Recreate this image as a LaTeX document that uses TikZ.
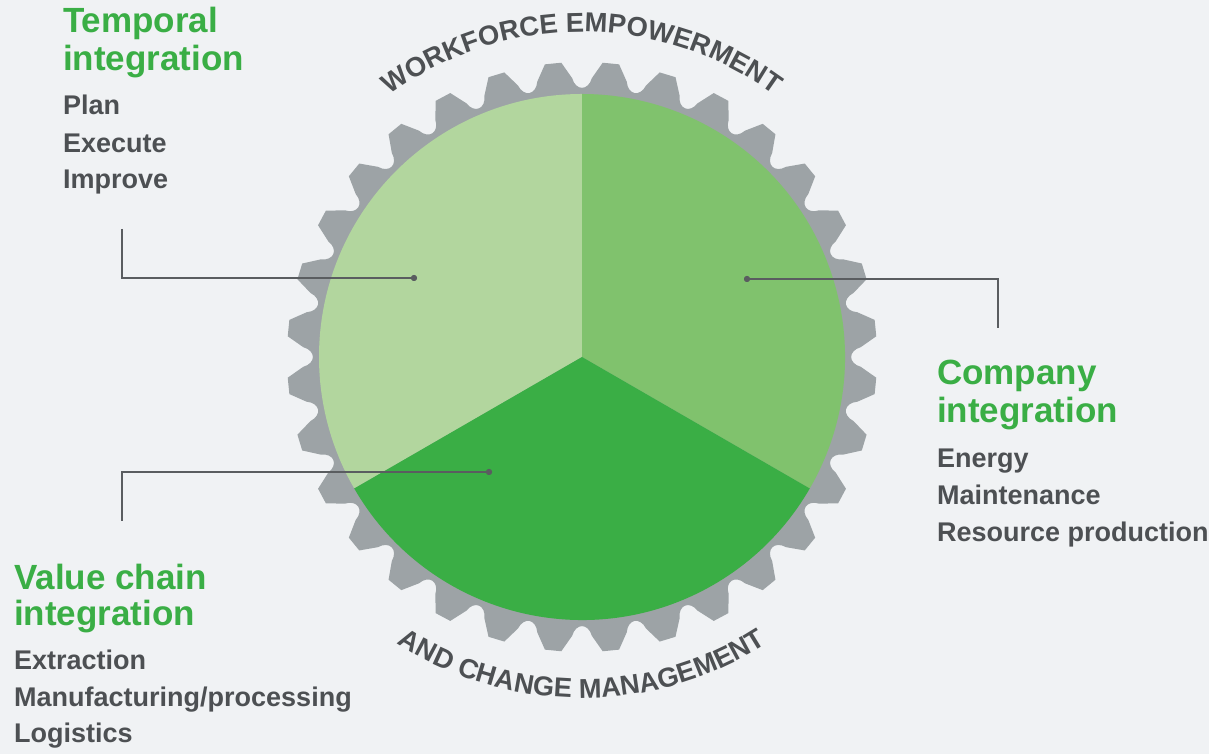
\documentclass[tikz,border=0pt]{standalone}
\usepackage{fontspec}
\setmainfont{Liberation Sans}
\usetikzlibrary{decorations.text}
\definecolor{bgc}{HTML}{F0F2F4}
\definecolor{gearc}{HTML}{9DA3A6}
\definecolor{gl}{HTML}{B2D69E}
\definecolor{gm}{HTML}{80C26D}
\definecolor{gd}{HTML}{3AAE45}
\definecolor{txt}{HTML}{4D5053}
\definecolor{linec}{HTML}{5A5D60}
\tikzset{
  title/.style={anchor=base west, inner sep=0pt, text=gd, font=\fontsize{35}{35}\selectfont\bfseries},
  item/.style={anchor=base west, inner sep=0pt, text=txt, font=\fontsize{27}{27}\selectfont\bfseries},
  dotnode/.style={circle, fill=linec, inner sep=0pt, minimum size=6pt},
  conn/.style={draw=linec, line width=1.5pt}
}
\begin{document}
\begin{tikzpicture}[x=1pt,y=1pt]
\useasboundingbox (0,0) rectangle (1209,754);
\fill[bgc] (0,0) rectangle (1209,754);
\begin{scope}[shift={(582,397)}]
  % gear
  \fill[gearc] ({5.625-1.6}:295)
    \foreach \i in {0,...,31}{
      -- ({5.625+\i*11.25-1.6}:295) -- ({5.625+\i*11.25+1.6}:295) -- ({5.625+\i*11.25+3.6}:279)
      .. controls ({5.625+\i*11.25+4.3}:266) and ({5.625+\i*11.25+6.95}:266) .. ({5.625+\i*11.25+7.65}:279)
    } -- cycle;
  % pie
  \fill[gl] (0,0) -- (90:263) arc[start angle=90, end angle=210, radius=263] -- cycle;
  \fill[gm] (0,0) -- (-30:263) arc[start angle=-30, end angle=90, radius=263] -- cycle;
  \fill[gd] (0,0) -- (210:263) arc[start angle=210, end angle=330, radius=263] -- cycle;
  % curved texts
  \path[decorate, decoration={text along path, text align=center,
     text={|\color{txt}\fontsize{27.3}{27.3}\selectfont\bfseries|WORKFORCE EMPOWERMENT}}]
     (150:325) arc[start angle=150, end angle=30, radius=325];
  \path[decorate, decoration={text along path, text align=center,
     text={|\color{txt}\fontsize{27.3}{27.3}\selectfont\bfseries|AND CHANGE MANAGEMENT}}]
     (210:341) arc[start angle=210, end angle=330, radius=341];
\end{scope}
% Temporal
\node[title] (tt1) at (63,721) {Temporal};
\node[title] (tt2) at (63,683) {integration};
\node[item] (ti1) at (63,639) {Plan};
\node[item] (ti2) at (63,601.5) {Execute};
\node[item] (ti3) at (63,565) {Improve};
% Company
\node[title] (ct1) at (937,369) {Company};
\node[title] (ct2) at (937,331) {integration};
\node[item] (ci1) at (937,286) {Energy};
\node[item] (ci2) at (937,249) {Maintenance};
\node[item] (ci3) at (937,212) {Resource production};
% Value chain
\node[title] (vt1) at (14,164) {Value chain};
\node[title] (vt2) at (14,128) {integration};
\node[item] (vi1) at (14,84) {Extraction};
\node[item] (vi2) at (14,47) {Manufacturing/processing};
\node[item] (vi3) at (14,11) {Logistics};
% connectors
\node[dotnode] (td) at (414,476) {};
\node[dotnode] (cd) at (747,475) {};
\node[dotnode] (vd) at (489,282) {};
\coordinate (tend) at (122,525);
\coordinate (cend) at (998,426);
\coordinate (vend) at (122,233);
\draw[conn] (tend) |- (td.center);
\draw[conn] (cend) |- (cd.center);
\draw[conn] (vend) |- (vd.center);
\node[dotnode] at (td) {};
\node[dotnode] at (cd) {};
\node[dotnode] at (vd) {};
\end{tikzpicture}
\end{document}
